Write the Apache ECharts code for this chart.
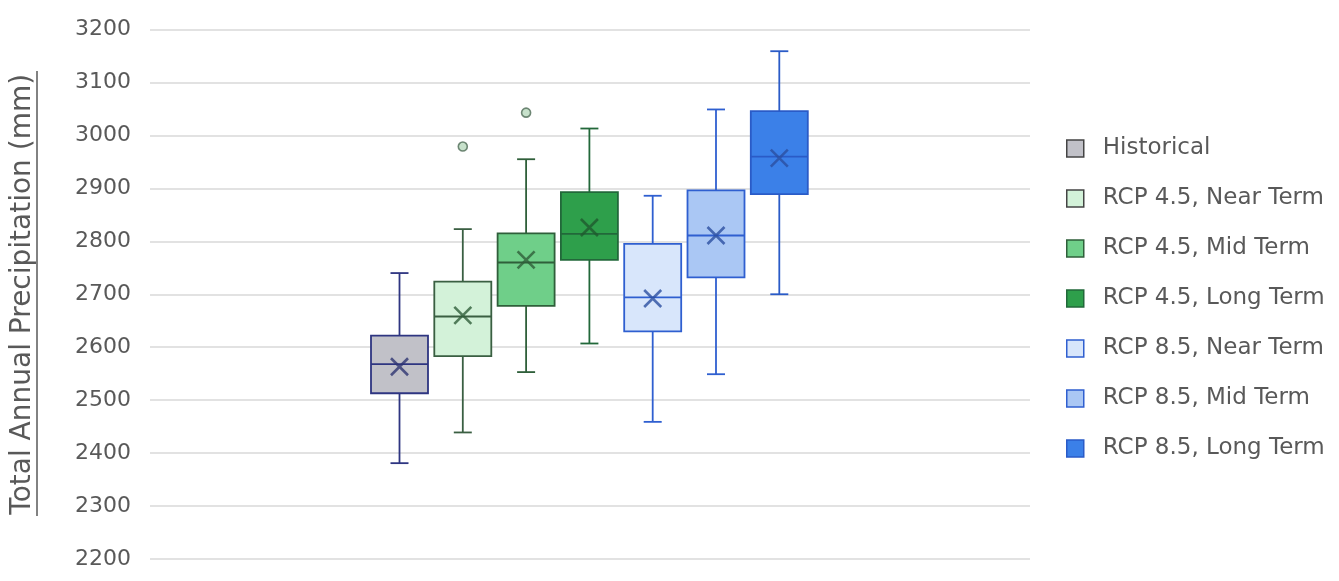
<!DOCTYPE html>
<html>
<head>
<meta charset="utf-8">
<script src="https://cdn.jsdelivr.net/npm/echarts@6/dist/echarts.min.js"></script>
<style>
  html, body { margin: 0; padding: 0; background: #fff; }
  #chart { width: 1339px; height: 581px; }
</style>
</head>
<body>
<div id="chart"></div>
<script>
// series names, one box each
const names = [
  'Historical',
  'RCP 4.5, Near Term',
  'RCP 4.5, Mid Term',
  'RCP 4.5, Long Term',
  'RCP 8.5, Near Term',
  'RCP 8.5, Mid Term',
  'RCP 8.5, Long Term'
]
// [lower whisker, Q1, median, Q3, upper whisker]
const boxes = [
  [2381, 2513, 2568, 2622, 2740],
  [2439, 2583, 2658, 2724, 2823],
  [2553, 2678, 2760, 2815, 2955],
  [2607, 2765, 2814, 2893, 3013],
  [2459, 2630, 2694, 2795, 2886],
  [2549, 2732, 2811, 2896, 3049],
  [2700, 2889, 2960, 3046, 3159]
]
const means = [2563, 2660, 2765, 2826, 2692, 2811, 2957]
// outliers: [series index, value]
const outliers = [[1, 2979], [2, 3043]]

const fills = ['#c1c1c8', '#d3f2d9', '#6fcf89', '#2e9f4b', '#d8e6fb', '#aac7f4', '#3b80e8']
const borders = ['#2e3581', '#3a5f42', '#2f5f3a', '#22683a', '#2f5fd0', '#2f5fd0', '#2a5bc7']
const meanColors = ['#2e3572', '#2f5e3a', '#2f5e3a', '#1f5a2e', '#2c4fa0', '#2c4fa0', '#2c4fa0']

const yMin = 2200, yMax = 3200
const font = 'DejaVu Sans'
const textColor = '#595959'
const BOX_W = 57, CAP_W = 18

const chart = echarts.init(document.getElementById('chart'))

// draws one box with whiskers from [x, low, q1, med, q3, high]
function renderBox(params, api) {
  const x = api.value(0)
  const low = api.coord([x, api.value(1)])
  const q1 = api.coord([x, api.value(2)])
  const med = api.coord([x, api.value(3)])
  const q3 = api.coord([x, api.value(4)])
  const high = api.coord([x, api.value(5)])
  const cx = med[0]
  const i = params.seriesIndex
  const stroke = { stroke: borders[i], lineWidth: 1.8, fill: null }
  const line = (x1, y1, x2, y2) => ({ type: 'line', shape: { x1, y1, x2, y2 }, style: stroke })
  return {
    type: 'group',
    children: [
      line(cx, high[1], cx, q3[1]),
      line(cx, q1[1], cx, low[1]),
      line(cx - CAP_W / 2, high[1], cx + CAP_W / 2, high[1]),
      line(cx - CAP_W / 2, low[1], cx + CAP_W / 2, low[1]),
      {
        type: 'rect',
        shape: { x: cx - BOX_W / 2, y: q3[1], width: BOX_W, height: q1[1] - q3[1] },
        style: { fill: fills[i], stroke: borders[i], lineWidth: 1.8 }
      },
      line(cx - BOX_W / 2, med[1], cx + BOX_W / 2, med[1])
    ]
  }
}

chart.setOption({
  animation: false,
  backgroundColor: '#fff',
  grid: [
    { left: 150, right: 309, top: 29.5, bottom: 22 },
    { left: 367.85, right: 528.05, top: 29.5, bottom: 22 }
  ],
  xAxis: [
    { type: 'category', gridIndex: 0, data: [''], show: false },
    { type: 'category', gridIndex: 1, data: names, show: false }
  ],
  yAxis: [
    {
      type: 'value', gridIndex: 0, min: yMin, max: yMax, interval: 100,
      name: 'Total Annual Precipitation (mm)',
      nameLocation: 'middle', nameRotate: 90, nameGap: 113,
      nameTextStyle: { fontFamily: font, fontSize: 28, color: textColor },
      axisLine: { show: false },
      axisTick: { show: false },
      axisLabel: {
        fontFamily: font, fontSize: 22, color: textColor, margin: 19,
        padding: [6, 0, 0, 0], formatter: v => String(v)
      },
      splitLine: { lineStyle: { color: '#d9d9d9', width: 1.5 } }
    },
    { type: 'value', gridIndex: 1, min: yMin, max: yMax, show: false }
  ],
  legend: {
    orient: 'vertical',
    left: 1066, top: 137, padding: 0,
    itemWidth: 17, itemHeight: 17, itemGap: 27,
    icon: 'rect',
    textStyle: { fontFamily: font, fontSize: 23, color: textColor, padding: [0, 0, 0, 14] },
    data: names.map((n, i) => ({
      name: n,
      itemStyle: { color: fills[i], borderColor: i < 2 ? '#444' : borders[i], borderWidth: 1.5 }
    }))
  },
  graphic: [{
    type: 'line',
    shape: { x1: 37, y1: 71, x2: 37, y2: 516 },
    style: { stroke: textColor, lineWidth: 1.5 }
  }],
  series: [
    ...names.map((n, i) => ({
      name: n,
      type: 'custom',
      xAxisIndex: 1, yAxisIndex: 1,
      renderItem: renderBox,
      itemStyle: { color: fills[i], borderColor: borders[i] },
      encode: { x: 0, y: [1, 2, 3, 4, 5] },
      data: [[i, ...boxes[i]]]
    })),
    {
      name: 'Mean',
      type: 'scatter',
      xAxisIndex: 1, yAxisIndex: 1,
      symbol: 'path://M0,0L10,10M10,0L0,10',
      symbolSize: 17,
      data: means.map((v, i) => ({
        value: [i, v],
        itemStyle: { color: 'transparent', borderColor: meanColors[i], borderWidth: 2.6 }
      }))
    },
    {
      name: 'Outliers',
      type: 'scatter',
      xAxisIndex: 1, yAxisIndex: 1,
      symbol: 'circle',
      symbolSize: 9,
      itemStyle: { color: '#b9d9be', borderColor: '#4f6b56', borderWidth: 1.6 },
      data: outliers
    }
  ]
})
</script>
</body>
</html>
